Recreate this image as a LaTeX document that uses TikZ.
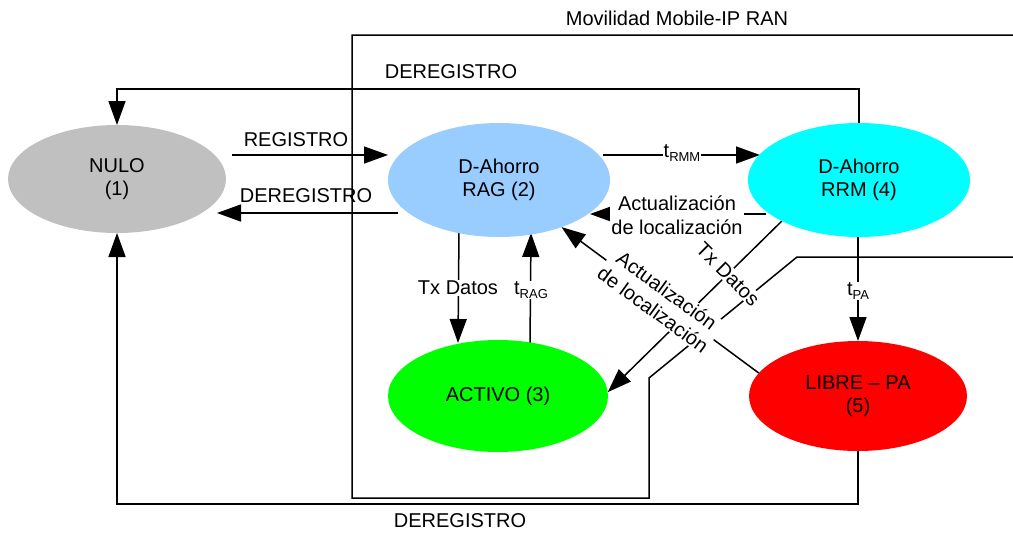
\documentclass[tikz,border=0pt]{standalone}
\usepackage{fontspec}
\setmainfont{Liberation Sans}
\usetikzlibrary{shapes.geometric,arrows.meta}
\pgfdeclarelayer{background}
\pgfsetlayers{background,main}
\newcommand{\lsub}[1]{\raisebox{-0.35ex}{\fontsize{13}{13}\selectfont #1}}
\definecolor{cnulo}{HTML}{C0C0C0}
\definecolor{crag}{HTML}{99CCFF}
\definecolor{crrm}{HTML}{00FFFF}
\definecolor{cact}{HTML}{00FF00}
\definecolor{clib}{HTML}{FF0000}
\begin{document}
\begin{tikzpicture}[x=1pt,y=-1pt,
  every node/.style={font=\fontsize{20}{23.5}\selectfont},
  state/.style={ellipse, draw=none, align=center, inner sep=0pt, outer sep=0pt},
  conn/.style={line width=1.5pt},
  arr/.style={conn, -{Triangle[length=24pt,width=17pt]}},
  lbl/.style={inner sep=1pt},
  wlbl/.style={fill=white, inner sep=1pt, align=center}]
\useasboundingbox (0,0) rectangle (1013,533);

% states
\node[state, fill=cnulo, minimum width=218pt, minimum height=108pt] (n1) at (117,179) {NULO\\(1)};
\node[state, fill=crag, minimum width=222pt, minimum height=114pt] (n2) at (499,180) {D-Ahorro\\RAG (2)};
\node[state, fill=cact, minimum width=220pt, minimum height=112pt] (n3) at (498,396) {ACTIVO (3)};
\node[state, fill=crrm, minimum width=222pt, minimum height=114pt] (n4) at (859,180) {D-Ahorro\\RRM (4)};
\node[state, fill=clib, minimum width=218pt, minimum height=110pt] (n5) at (858,396) {LIBRE – PA\\(5)};

\begin{pgfonlayer}{background}
% mobility region outline
\draw[conn] (1013,35) -- (352,35) -- (352,498) -- (649,498) -- (649,378) -- (797,257) -- (1013,257);

% connectors
\draw[arr] ([shift={(6,-24)}]n1.east) -- ([shift={(0,-25)}]n2.west);
\draw[arr] ([shift={(10,33)}]n2.west) -- ([shift={(-9,34)}]n1.east);
\draw[arr] ([shift={(-7,-25)}]n2.east) -- ([shift={(12,-25)}]n4.west);
\draw[arr] ([shift={(18,34)}]n4.west) -- ([shift={(-20,34)}]n2.east);
\draw[arr] ([shift={(-40,-6)}]n2.south) -- ([shift={(-40,3)}]n3.north);
\draw[arr] ([shift={(32,4)}]n3.north) -- ([shift={(32,-4)}]n2.south);
\draw[arr] (n4.208) -- (n3.2);
\draw[arr] (n5.167) -- (n2.323);
\draw[arr] ([xshift=-1]n4.south) -- (n5.north);
\draw[arr] (n4.north) -- ++(0,-34) -| (n1.north);
\draw[arr] (n5.south) -- ++(0,53) -| (n1.south);

% labels
\node[lbl] (lmov) at (677,18) {Movilidad Mobile-IP RAN};
\node[lbl] (ldt) at (451,72) {DEREGISTRO};
\node[lbl] (lreg) at (296,140) {REGISTRO};
\node[lbl] (ldm) at (306,196) {DEREGISTRO};
\node[lbl] (ldb) at (460,521) {DEREGISTRO};
\node[wlbl] (lrmm) at (682,153) {t\lsub{RMM}};
\node[wlbl] (lact1) at (677,215) {Actualización\\de localización};
\node[wlbl] (ltx1) at (458,288) {Tx Datos};
\node[wlbl] (lrag) at (531,290) {t\lsub{RAG}};
\node[wlbl, rotate=-45] (ltx2) at (728,274) {Tx Datos};
\node[wlbl, rotate=-36] (lact2) at (660,300) {Actualización\\de localización};
\node[wlbl] (lpa) at (858,291) {t\lsub{PA}};
\end{pgfonlayer}
\end{tikzpicture}
\end{document}
